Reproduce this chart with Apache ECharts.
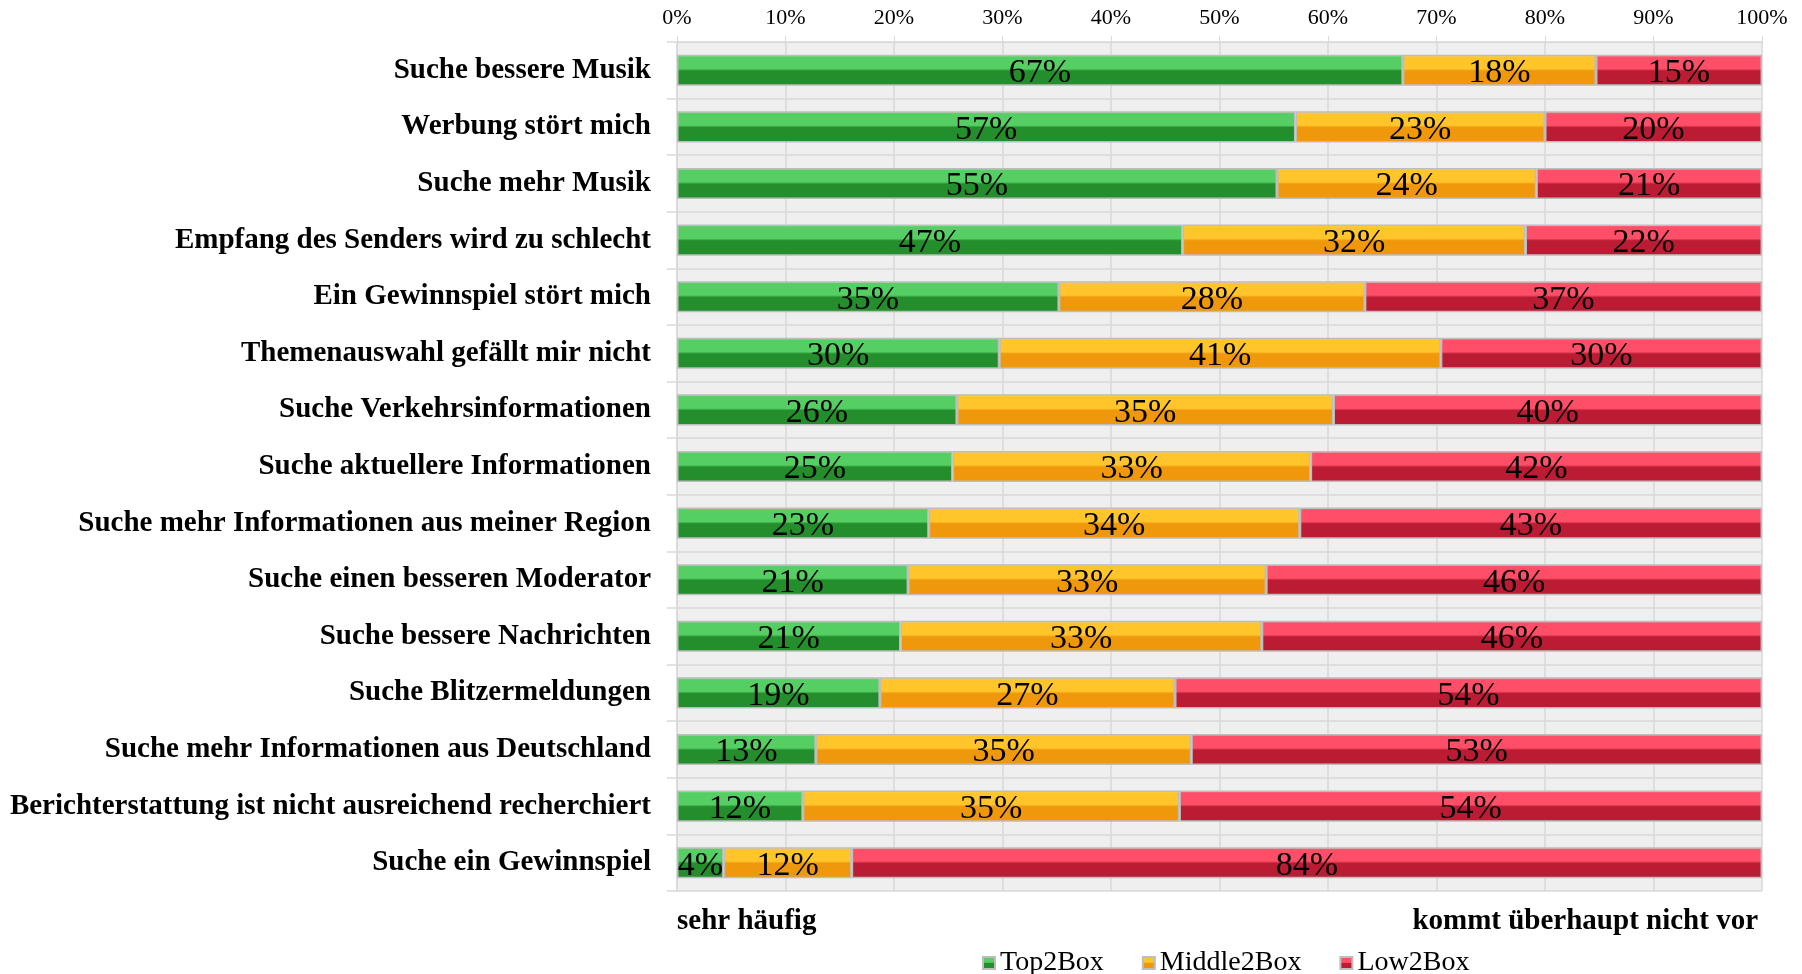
<!DOCTYPE html>
<html>
<head>
<meta charset="utf-8">
<script src="https://cdn.jsdelivr.net/npm/echarts@6/dist/echarts.min.js"></script>
<style>
  html, body { margin: 0; padding: 0; background: #fff; }
  #chart { width: 1802px; height: 974px; }
</style>
</head>
<body>
<div id="chart"></div>
<script>
// Daten ------------------
var categories = [
  'Suche bessere Musik',
  'Werbung stört mich',
  'Suche mehr Musik',
  'Empfang des Senders wird zu schlecht',
  'Ein Gewinnspiel stört mich',
  'Themenauswahl gefällt mir nicht',
  'Suche Verkehrsinformationen',
  'Suche aktuellere Informationen',
  'Suche mehr Informationen aus meiner Region',
  'Suche einen besseren Moderator',
  'Suche bessere Nachrichten',
  'Suche Blitzermeldungen',
  'Suche mehr Informationen aus Deutschland',
  'Berichterstattung ist nicht ausreichend recherchiert',
  'Suche ein Gewinnspiel'
];
var top2Box    = [66.9, 57.0, 55.3, 46.6, 35.2, 29.7, 25.8, 25.4, 23.2, 21.3, 20.6, 18.7, 12.8, 11.6, 4.3];
var middle2Box = [17.8, 23.0, 23.9, 31.6, 28.2, 40.7, 34.7, 33.0, 34.2, 33.0, 33.3, 27.2, 34.6, 34.7, 11.8];
var low2Box    = [15.3, 20.0, 20.8, 21.8, 36.6, 29.6, 39.5, 41.6, 42.6, 45.7, 46.1, 54.1, 52.6, 53.7, 83.9];
var xTicks = [0, 10, 20, 30, 40, 50, 60, 70, 80, 90, 100];

var serif = '"Liberation Serif", "DejaVu Serif", serif';
var gridColor = '#d9d9d9';

// Balken mit Glanz-Verlauf
function bevel(edge, light, dark) {
  return new echarts.graphic.LinearGradient(0, 0, 0, 1, [
    {offset: 0, color: edge},
    {offset: 0.08, color: light},
    {offset: 0.45, color: light},
    {offset: 0.52, color: dark},
    {offset: 1, color: dark}
  ]);
}

var labelStyle = {
  show: true,
  position: 'inside',
  offset: [0, 3],
  color: '#000',
  fontFamily: serif,
  fontSize: 34,
  formatter: function (p) { return Math.round(p.value) + '%'; }
};

var myChart = echarts.init(document.getElementById('chart'));

option = {
  backgroundColor: '#fff',
  animation: false,
  grid: {
    left: 677, right: 40, top: 42, bottom: 83,
    show: true, backgroundColor: '#efefef', borderWidth: 0
  },
  legend: {
    data: ['Top2Box', 'Middle2Box', 'Low2Box'],
    left: 977, top: 944,
    itemWidth: 12, itemHeight: 12, itemGap: 38,
    icon: 'rect',
    textStyle: { fontFamily: serif, fontSize: 28, color: '#000' }
  },
  xAxis: {
    type: 'value',
    position: 'top',
    min: xTicks[0], max: xTicks[xTicks.length - 1], interval: 10,
    axisLine: { show: true, lineStyle: { color: gridColor } },
    axisTick: { show: true, length: 6, lineStyle: { color: gridColor } },
    axisLabel: { formatter: '{value}%', fontFamily: serif, fontSize: 22, color: '#000', margin: 13 },
    splitLine: { show: true, lineStyle: { color: gridColor, width: 1.5 } }
  },
  yAxis: {
    type: 'category',
    inverse: true,
    data: categories,
    axisLine: { show: true, lineStyle: { color: gridColor, width: 1.5 } },
    axisTick: { show: true, length: 10, lineStyle: { color: gridColor, width: 1.5 } },
    axisLabel: { fontFamily: serif, fontSize: 29, fontWeight: 'bold', color: '#000', margin: 26, padding: [4, 0, 0, 0] },
    splitLine: { show: true, lineStyle: { color: gridColor, width: 1.5 } }
  },
  graphic: [
    { type: 'text', left: 677, top: 907,
      style: { text: 'sehr häufig', font: 'bold 29px ' + serif, fill: '#000' } },
    { type: 'text', right: 44, top: 907,
      style: { text: 'kommt überhaupt nicht vor', font: 'bold 29px ' + serif, fill: '#000' } }
  ],
  series: [
    {
      name: 'Top2Box', type: 'bar', stack: 'all', barWidth: '55%',
      data: top2Box, label: labelStyle,
      itemStyle: { color: bevel('#8ae794', '#55cf63', '#248e2c'), borderColor: '#bdbdbd', borderWidth: 1.5 }
    },
    {
      name: 'Middle2Box', type: 'bar', stack: 'all',
      data: middle2Box, label: labelStyle,
      itemStyle: { color: bevel('#ffe07a', '#ffc52a', '#ef980b'), borderColor: '#bdbdbd', borderWidth: 1.5 }
    },
    {
      name: 'Low2Box', type: 'bar', stack: 'all',
      data: low2Box, label: labelStyle,
      itemStyle: { color: bevel('#ff8a98', '#ff4f68', '#bb1c33'), borderColor: '#bdbdbd', borderWidth: 1.5 }
    }
  ]
};
myChart.setOption(option);
</script>
</body>
</html>
